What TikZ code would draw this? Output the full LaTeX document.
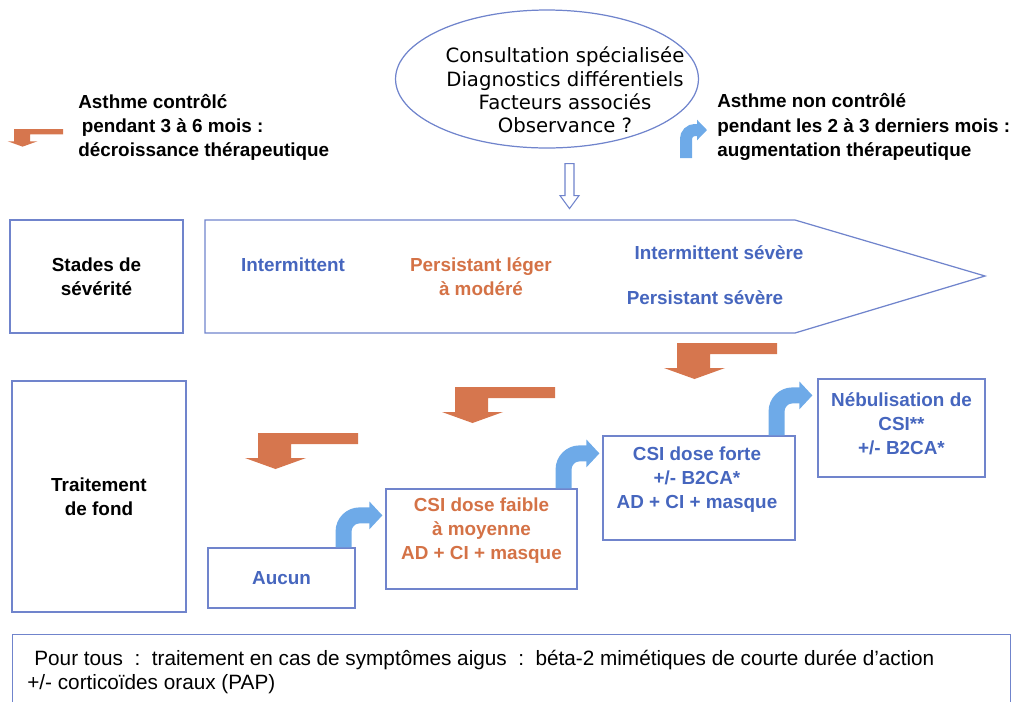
\documentclass[tikz,border=0pt]{standalone}
\usepackage{fontspec}
\setmainfont{Liberation Sans}
\newfontfamily\ovalfont{DejaVu Sans}
\usepackage{tikz}
\usetikzlibrary{arrows.meta}
\usetikzlibrary{shapes.geometric}
\usetikzlibrary{calc}

\definecolor{cadreblue}{RGB}{112,132,204}
\definecolor{txtblue}{RGB}{70,102,190}
\definecolor{txtorange}{RGB}{212,114,70}
\definecolor{downorange}{RGB}{214,118,78}
\definecolor{upblue}{RGB}{110,170,232}

\tikzset{
  cadre/.style={draw=cadreblue, line width=0.7pt, inner sep=0pt},
  boldtxt/.style={font=\fontsize{10.75}{13.7}\selectfont\bfseries, align=center, inner sep=0pt},
  upstep/.style={draw=upblue, line width=0.32cm, rounded corners=0.32cm,
    -{Triangle[length=0.26cm,width=0.54cm]}},
}

\begin{document}
\begin{tikzpicture}[x=0.02cm, y=-0.02cm]
      \useasboundingbox (0,0) rectangle (1018,701);
      \clip (0,0) rectangle (1018,701);

      \node[ellipse, cadre, minimum width=6.06cm, minimum height=2.76cm] (consult) at (547,79) {};
      \node[font=\ovalfont\fontsize{11.2}{13.3}\selectfont, align=center] (consult-t) at ($(consult)+(18,11)$)
        {Consultation spécialisée\\Diagnostics différentiels\\Facteurs associés\\Observance ?};

      \node[boldtxt, align=left, anchor=west] (ctrl) at (78,127)
        {Asthme contrôlć\\\hspace{2pt}pendant 3 à 6 mois :\\décroissance thérapeutique};
      \node[boldtxt, align=left, anchor=west] (nonctrl) at (717,127)
        {Asthme non contrôlé\\pendant les 2 à 3 derniers mois :\\augmentation thérapeutique};

      \node[cadre, boldtxt, minimum width=3.46cm, minimum height=2.26cm] (stades) at (96.5,276.5) {Stades de\\sévérité};
      \draw[cadreblue, line width=0.7pt] (205,220) coordinate (sev) -- (795,220) -- (985,276) -- (795,333) -- (205,333) -- cycle;
      \node[boldtxt, text=txtblue] (interm) at (293,265) {Intermittent};
      \node[boldtxt, text=txtorange] (leger) at (481,277) {Persistant léger\\à modéré};
      \node[boldtxt, text=txtblue] (intsev) at (719,253) {Intermittent sévère};
      \node[boldtxt, text=txtblue] (persev) at (705,298) {Persistant sévère};

      \draw[cadreblue, fill=white, line width=0.6pt] ($(consult.south)+(18,15)$) -- ++(9,0) -- ++(0,32) -- ++(5,0)
        -- ++(-9.5,13) -- ++(-9.5,-13) -- ++(5,0) -- cycle;

      \node[cadre, boldtxt, minimum width=3.48cm, minimum height=4.62cm] (fond) at (99,496.5) {Traitement\\de fond};
      \node[cadre, boldtxt, text=txtblue, minimum width=2.94cm, minimum height=1.2cm] (aucun) at (281.5,578) {Aucun};
      \node[cadre, minimum width=3.82cm, minimum height=2cm] (faible) at (481.5,539) {};
      \node[boldtxt, text=txtorange] (faible-t) at ($(faible)+(0,-8)$) {CSI dose faible\\à moyenne\\AD + CI + masque};
      \node[cadre, minimum width=3.84cm, minimum height=2.08cm] (forte) at (699,488) {};
      \node[boldtxt, text=txtblue] (forte-t) at ($(forte)+(-2,-8)$) {CSI dose forte\\+/- B2CA*\\AD + CI + masque};
      \node[cadre, minimum width=3.34cm, minimum height=1.96cm] (nebul) at (901.5,428) {};
      \node[boldtxt, text=txtblue] (nebul-t) at ($(nebul)+(0,-4)$) {Nébulisation de\\CSI**\\+/- B2CA*};

      \draw[upstep] ($(aucun.north east)+(-12,0)$) |- ($(faible.north west)+(-3,27)$);
      \draw[upstep] ($(faible.north east)+(-14,0)$) |- ($(forte.north west)+(-3,18)$);
      \draw[upstep] ($(forte.north east)+(-19,0)$) |- ($(nebul.north west)+(-5,17)$);
      \draw[upstep, line width=0.24cm, rounded corners=0.18cm, -{Triangle[length=0.2cm,width=0.4cm]}]
        ($(nonctrl.west)+(-31,31)$) |- ($(nonctrl.west)+(-10,3)$);

      \foreach \x/\y/\s in {677/343/1, 455/387/1, 258/433/1, 14/129/0.49}
        \fill[downorange, shift={(\x,\y)}, scale=\s] (0,0) -- (100,0) -- (100,11) -- (33,11) -- (33,25)
          -- (48,25) -- (17.5,36) -- (-13,25) -- (0,25) -- cycle;

      \node[cadre, anchor=north west, minimum width=19.96cm, minimum height=2cm] (tous) at (12,634) {};
      \node[font=\fontsize{11.8}{14.2}\selectfont, align=left, anchor=west, inner sep=0pt] (tous-t) at (27,672)
        {\hspace{4pt}Pour tous~~:~~traitement en cas de symptômes aigus~~:~~béta-2 mimétiques de courte durée d’action\\+/- corticoïdes oraux (PAP)};
    \end{tikzpicture}
\end{document}
